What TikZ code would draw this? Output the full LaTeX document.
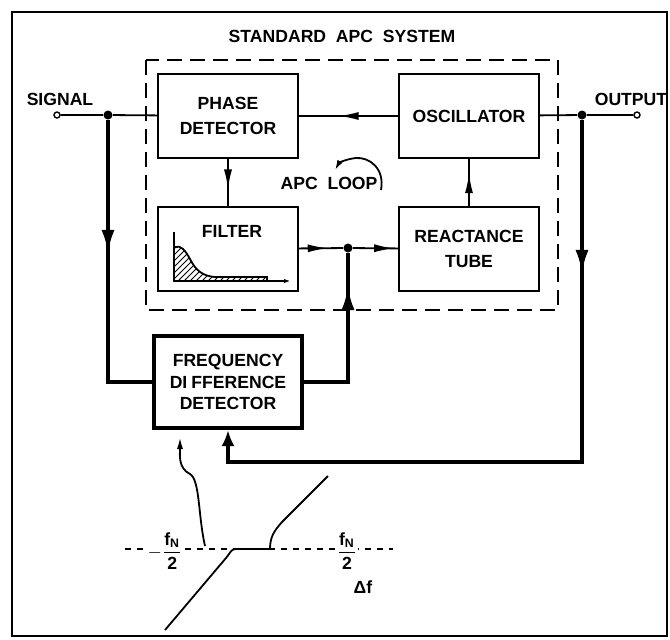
\documentclass[tikz,border=0pt]{standalone}
\usepackage{fontspec}
\setmainfont{Liberation Sans}
\usepackage{amsmath}
\usetikzlibrary{arrows.meta,positioning,patterns,decorations.markings}

\newcommand{\lbl}{\fontsize{8.8}{12.5}\selectfont\bfseries}

\begin{document}
\begin{tikzpicture}[x=0.5pt,y=-0.5pt,
  blk/.style={draw,line width=1.2pt,minimum width=70pt,minimum height=42pt,inner sep=0pt,align=center,font=\lbl},
  midtip/.style={postaction={decorate},decoration={markings,mark=at position #1 with {\arrow{Latex[length=10pt,width=4pt]}}}},
  bigtip/.style={postaction={decorate},decoration={markings,mark=at position #1 with {\arrow{Latex[length=12pt,width=6.5pt]}}}},
  jdot/.style={circle,fill,inner sep=0pt,minimum size=4.5pt},
  term/.style={circle,draw,fill=white,line width=0.7pt,inner sep=0pt,minimum size=3pt},
  bus/.style={line width=2pt},
  sig/.style={line width=0.9pt},
  apcbox/.style={line width=0.9pt,dash pattern=on 7.5pt off 4pt}]
\useasboundingbox (0,0) rectangle (670,639);
\draw[line width=1.3pt] (12,12) rectangle (667,636);
\node[font=\lbl] (title) at (342,36) {STANDARD\ \ APC\ \ SYSTEM};
\draw[apcbox] (146,60) rectangle (558,310);
% blocks
\node[blk] (pd) at (228,116) {PHASE\\DETECTOR};
\node[blk] (osc) at (469,116) {OSCILLATOR};
\node[blk] (filt) at (228,249) {};
\node[blk] (rt) at (469,249) {REACTANCE\\TUBE};
\node[blk,line width=2pt,minimum width=74pt,minimum height=46pt,font=\fontsize{8.8}{10.8}\selectfont\bfseries] (fdd) at (228,382) {FREQUENCY\\DI\kern2pt FFERENCE\\DETECTOR};
\node[font=\lbl] (filtlbl) at (232,231) {FILTER};
\node[font=\lbl] (loop) at (329,183) {APC\ \ LOOP};
% terminals
\node[jdot] (sdot) at (108,115) {};
\node[term] (sin) at (57,115) {};
\node[jdot] (odot) at (582,115) {};
\node[term] (sout) at (637,115) {};
\node[jdot] (jn) at (348,248) {};
\node[font=\lbl] (siglbl) at (60,99) {SIGNAL};
\node[font=\lbl] (outlbl) at (631,99) {OUTPUT};
% apc loop
\draw[sig] (sin) -- (sdot) -- (pd);
\draw[sig] (osc) -- (odot) -- (sout);
\draw[sig,midtip=0.6] (osc) -- (pd);
\draw[sig,midtip=0.65] (pd) -- (filt);
\draw[sig,midtip=0.7] (rt) -- (osc);
\draw[sig,midtip=0.65] (filt) -- (jn);
\draw[sig,midtip=0.92] (jn) -- (rt);
\draw[sig,-{Latex[length=5pt,width=3pt]}] (381,190) .. controls (385,168) and (369,157) .. (356,158) .. controls (346,159) and (339,163) .. (335,170);
% filter curve
\fill[pattern=north east lines] (175,280) -- (175,247) .. controls (181,245) and (185,250) .. (190,259) .. controls (196,271) and (203,276) .. (215,277) -- (267,277) -- (267,280) -- cycle;
\draw[sig] (175,247) .. controls (181,245) and (185,250) .. (190,259) .. controls (196,271) and (203,276) .. (215,277) -- (267,277) -- (267,280);
\draw[sig,-{Latex[length=4pt,width=2pt]}] (174,232) |- (292,281);
% frequency difference path
\coordinate (fb) at (228,462);
\draw[bus,bigtip=67pt] (sdot) |- (fdd);
\draw[bus,bigtip=70pt] (fdd) -| (jn);
\draw[bus,bigtip=77pt,-{Latex[length=8pt,width=6.5pt]}] (odot) |- (fb) -- (fdd);
% characteristic
\coordinate (cv) at (205,546);
\draw[sig,-{Latex[length=6pt,width=3pt]}] (cv) .. controls (198,515) and (200,480) .. (190,474) .. controls (178,468) and (180,455) .. (180,437);
\draw[sig,dash pattern=on 3pt off 3pt] (125,549) -- (393,549);
\node[font=\lbl,fill=white,inner sep=0.5pt] (lhalf) at (165,551) {$-\dfrac{\text{f}_{\text{N}}}{\text{2}}$};
\node[font=\lbl,fill=white,inner sep=0.5pt] (rhalf) at (347,551) {$\dfrac{\text{f}_{\text{N}}}{\text{2}}$};
\node[font=\lbl] (df) at (363,587) {Δf};
\draw[sig] (165,630) -- (226,558) .. controls (231,552) and (231,549) .. (236,549) -- (270,549) .. controls (270,537) and (274,531) .. (282,522) -- (328,476);
\end{tikzpicture}
\end{document}
